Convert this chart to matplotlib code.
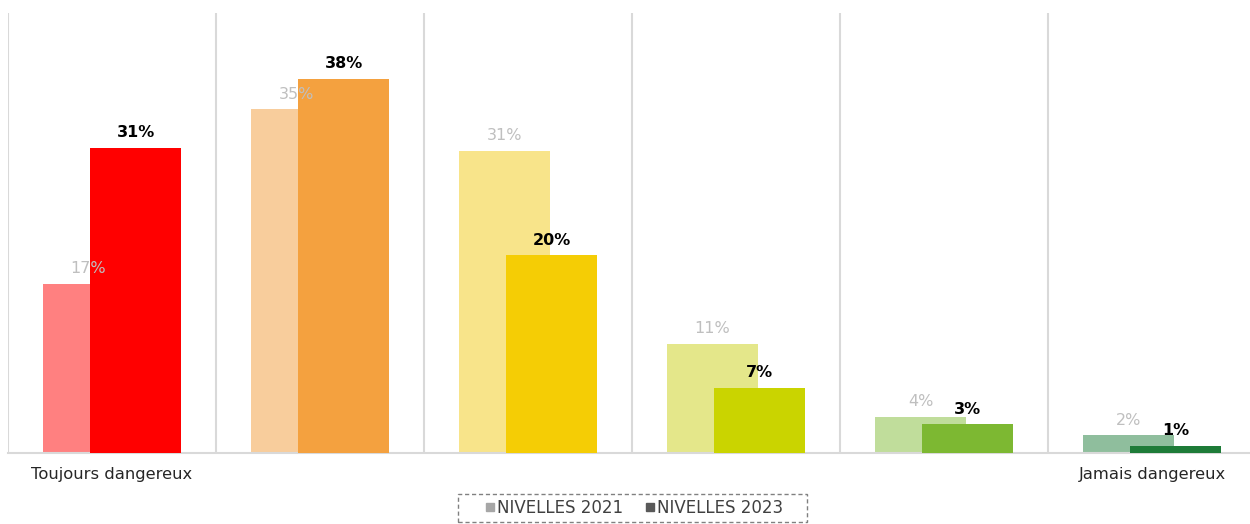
import matplotlib
matplotlib.use("Agg")
import matplotlib.pyplot as plt
from matplotlib.lines import Line2D
from matplotlib.patches import Rectangle
import numpy as np

categories = ["Toujours dangereux", "", "", "", "", "Jamais dangereux"]
values_2021 = [17.2, 34.9, 30.7, 11.1, 3.7, 1.8]
values_2023 = [31.0, 38.0, 20.1, 6.6, 2.9, 0.7]
colors_2021 = ["#FF8080", "#F8CD9C", "#F8E48A", "#E4E78A", "#C0DD9B", "#8FBE9D"]
colors_2023 = ["#FF0000", "#F4A13F", "#F5CD05", "#CAD400", "#7DB832", "#1E7B38"]
series_names = ["NIVELLES 2021", "NIVELLES 2023"]

plt.rcParams['font.family'] = ['DejaVu Sans']

fig = plt.figure(figsize=(12.5, 5.24), dpi=100)
W, H = 1250, 524
left, right, top, bottom = 8, 1256, 13, 453
ax = fig.add_axes([left / W, 1 - bottom / H, (right - left) / W, (bottom - top) / H])

x = np.arange(len(categories))
bw = 0.433
off = 0.113

ax.bar(x - off, values_2021, width=bw, color=colors_2021, zorder=2)
ax.bar(x + off, values_2023, width=bw, color=colors_2023, zorder=3)

for xi, v in zip(x, values_2021):
    ax.annotate(f"{round(v):.0f}%", (xi - off, v), xytext=(0, 5.5), textcoords="offset points",
                ha="center", va="bottom", fontsize=11.5, color="#BFBFBF", zorder=4)
for xi, v in zip(x, values_2023):
    ax.annotate(f"{round(v):.0f}%", (xi + off, v), xytext=(0, 5.5), textcoords="offset points",
                ha="center", va="bottom", fontsize=11.5, color="black", fontweight="bold", zorder=5)

ax.set_xlim(-0.5, len(categories) - 0.5)
ax.set_ylim(0, 44.7)

for b in np.arange(-0.5, len(categories) + 0.5, 1.0):
    ax.axvline(b, color="#D9D9D9", lw=1.5, zorder=1)

for s in ["top", "right", "left"]:
    ax.spines[s].set_visible(False)
ax.spines["bottom"].set_color("#D9D9D9")
ax.spines["bottom"].set_linewidth(1.5)
ax.set_yticks([])
ax.set_xticks(x)
ax.set_xticklabels(categories, fontsize=11.8, color="#262626")
ax.tick_params(axis="x", length=0, pad=10)

handles = [Line2D([], [], marker="s", linestyle="none", markersize=6, color="#A6A6A6"),
           Line2D([], [], marker="s", linestyle="none", markersize=6, color="#595959")]
leg = fig.legend(handles, series_names, loc="center", bbox_to_anchor=(634 / W, 1 - 508 / H),
                 ncol=2, frameon=False, fontsize=12, handletextpad=0.15, columnspacing=1.3,
                 handlelength=0.6)
for t in leg.get_texts():
    t.set_color("#404040")

frame = Rectangle((458 / W, 1 - 522 / H), (807 - 458) / W, (522 - 494) / H,
                  transform=fig.transFigure, fill=False, edgecolor="#808080",
                  linewidth=1.0, linestyle=(0, (3, 2)))
fig.add_artist(frame)

fig.savefig("out.png", dpi=100)
